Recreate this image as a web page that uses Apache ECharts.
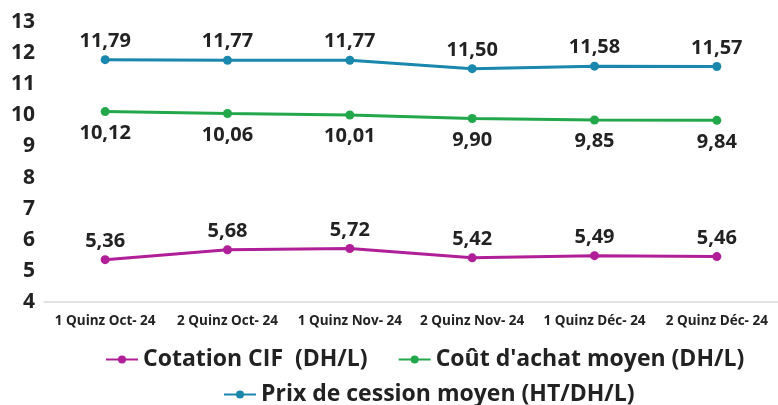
<!DOCTYPE html>
<html>
<head>
<meta charset="utf-8">
<script src="https://cdn.jsdelivr.net/npm/echarts@6/dist/echarts.min.js"></script>
<style>
  html, body { margin: 0; padding: 0; background: #fff; }
  #chart { width: 778px; height: 405px; }
</style>
</head>
<body>
<div id="chart"></div>
<script>
const categories = ['1 Quinz Oct- 24', '2 Quinz Oct- 24', '1 Quinz Nov- 24', '2 Quinz Nov- 24', '1 Quinz Déc- 24', '2 Quinz Déc- 24']
const cotationCif = [5.36, 5.68, 5.72, 5.42, 5.49, 5.46]
const coutAchat = [10.12, 10.06, 10.01, 9.90, 9.85, 9.84]
const prixCession = [11.79, 11.77, 11.77, 11.50, 11.58, 11.57]
const names = ['Cotation CIF  (DH/L)', "Coût d'achat moyen (DH/L)", 'Prix de cession moyen (HT/DH/L)']

const font = 'Open Sans'
const fmt = p => p.value.toFixed(2).replace('.', ',')

const mkSeries = (name, data, color, pos, dist) => ({
  name,
  type: 'line',
  data,
  symbol: 'circle',
  symbolSize: 9,
  itemStyle: { color },
  lineStyle: { width: 3, color },
  label: {
    show: true,
    position: pos,
    distance: dist,
    formatter: fmt,
    color: '#222',
    fontFamily: font,
    fontWeight: 'bold',
    fontSize: 20
  }
})

const legendText = { fontFamily: font, fontWeight: 'bold', fontSize: 23, color: '#222' }

const chart = echarts.init(document.getElementById('chart'))
chart.setOption({
  animation: false,
  grid: { left: 44, right: 0, top: 22, bottom: 103 },
  legend: [
    {
      data: [names[0], names[1]],
      top: 343,
      left: 100,
      itemGap: 30,
      itemWidth: 32,
      itemHeight: 10,
      textStyle: legendText
    },
    {
      data: [names[2]],
      top: 378,
      left: 218,
      itemWidth: 32,
      itemHeight: 10,
      textStyle: legendText
    }
  ],
  xAxis: {
    type: 'category',
    data: categories,
    axisLine: { lineStyle: { color: '#d9d9d9', width: 1.5 } },
    axisTick: { show: false },
    axisLabel: {
      interval: 0,
      margin: 12,
      color: '#222',
      fontFamily: font,
      fontWeight: 'bold',
      fontSize: 13.5
    }
  },
  yAxis: {
    type: 'value',
    min: 4,
    max: 13,
    interval: 1,
    splitLine: { show: false },
    axisLine: { show: false },
    axisTick: { show: false },
    axisLabel: {
      margin: 9,
      color: '#222',
      fontFamily: font,
      fontWeight: 'bold',
      fontSize: 21
    }
  },
  series: [
    mkSeries(names[0], cotationCif, '#b01f98', 'top', 4),
    mkSeries(names[1], coutAchat, '#22a84a', 'bottom', 7),
    mkSeries(names[2], prixCession, '#1a87ad', 'top', 4)
  ]
})
</script>
</body>
</html>
